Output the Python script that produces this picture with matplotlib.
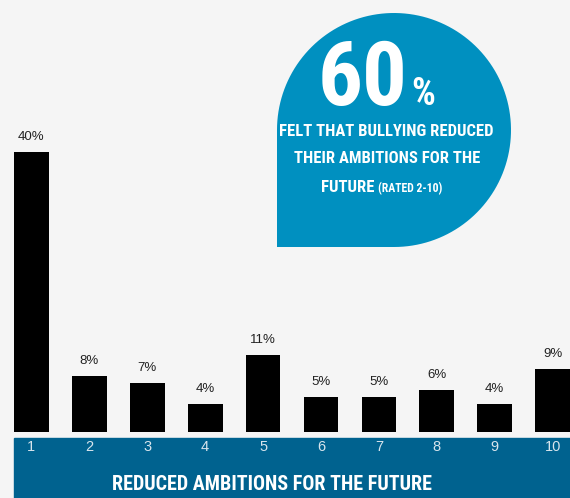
import matplotlib.pyplot as plt
from matplotlib.patches import Rectangle, PathPatch
from matplotlib.path import Path
import numpy as np

# Data
ratings = [1, 2, 3, 4, 5, 6, 7, 8, 9, 10]
percent = [40, 8, 7, 4, 11, 5, 5, 6, 4, 9]
tick_labels = [str(r) for r in ratings]

title = "REDUCED AMBITIONS FOR THE FUTURE"
big_value = "60"
bubble_lines = ["FELT THAT BULLYING REDUCED", "THEIR AMBITIONS FOR THE"]
bubble_last = "FUTURE"
bubble_note = "(RATED 2-10)"

W, H = 570, 498
cond = ['Roboto Condensed', 'Liberation Sans Narrow', 'DejaVu Sans']
arial = ['Liberation Sans', 'DejaVu Sans']

fig = plt.figure(figsize=(W / 100, H / 100), dpi=100)
fig.patch.set_facecolor("#f5f5f5")

# bar axes (pixel placement)
left, right = 14, 570
bottom, top = 432, 117
ax = fig.add_axes([left / W, 1 - bottom / H, (right - left) / W, (bottom - top) / H])
ax.set_facecolor("none")
ax.bar(ratings, percent, width=0.6, color="black")
ax.set_xlim(0.7, 10.3)
ax.set_ylim(0, 45)
ax.axis("off")
for r, p in zip(ratings, percent):
    ax.annotate(f"{p}%", (r, p), xytext=(0, 11), textcoords="offset points",
                ha="center", va="center", fontsize=9.5, color="#222222", family=arial)

# overlay in pixel coords
ov = fig.add_axes([0, 0, 1, 1], zorder=-1)
ov.set_xlim(0, W)
ov.set_ylim(H, 0)
ov.axis("off")
ov.set_facecolor("none")

# blue band
ov.add_patch(Rectangle((14, 437.5), W - 14, H - 437.5, color="#00628f"))
for r, lab in zip(ratings, tick_labels):
    xpix = left + (r - 0.7) / 9.6 * (right - left)
    ov.text(xpix, 447, lab, ha="center", va="center", fontsize=10.5,
            color="#d8e5ed", family=arial)
ov.text(272, 484, title, ha="center", va="center", fontsize=14.5,
        fontweight="bold", color="white", family=cond)

# bubble: circle with squared bottom-left corner
cx, cy, rad = 394, 130, 117
theta = np.linspace(np.pi / 2, -np.pi, 120)  # bottom -> right -> top -> left (y down)
arc = np.column_stack([cx + rad * np.cos(theta), cy + rad * np.sin(theta)])
verts = np.vstack([arc, [[cx - rad, cy + rad], [cx, cy + rad]]])
codes = [Path.MOVETO] + [Path.LINETO] * (len(verts) - 1)
ov.add_patch(PathPatch(Path(np.vstack([verts, verts[:1]]), codes + [Path.CLOSEPOLY]),
                       facecolor="#0090c0", edgecolor="none"))

ov.text(408, 105, big_value, ha="right", va="baseline", fontsize=64,
        fontweight="bold", color="white", family=cond)
ov.text(411, 105, "%", ha="left", va="baseline", fontsize=27,
        fontweight="bold", color="white", family=cond)
ov.text(386, 131, bubble_lines[0], ha="center", va="center", fontsize=12,
        fontweight="bold", color="white", family=cond)
ov.text(387, 158, bubble_lines[1], ha="center", va="center", fontsize=12,
        fontweight="bold", color="white", family=cond)
ov.text(374, 192, bubble_last, ha="right", va="baseline", fontsize=12,
        fontweight="bold", color="white", family=cond)
ov.text(378, 192, bubble_note, ha="left", va="baseline", fontsize=8.5,
        fontweight="bold", color="white", family=cond)

fig.savefig("out.png", dpi=100, facecolor=fig.get_facecolor())
